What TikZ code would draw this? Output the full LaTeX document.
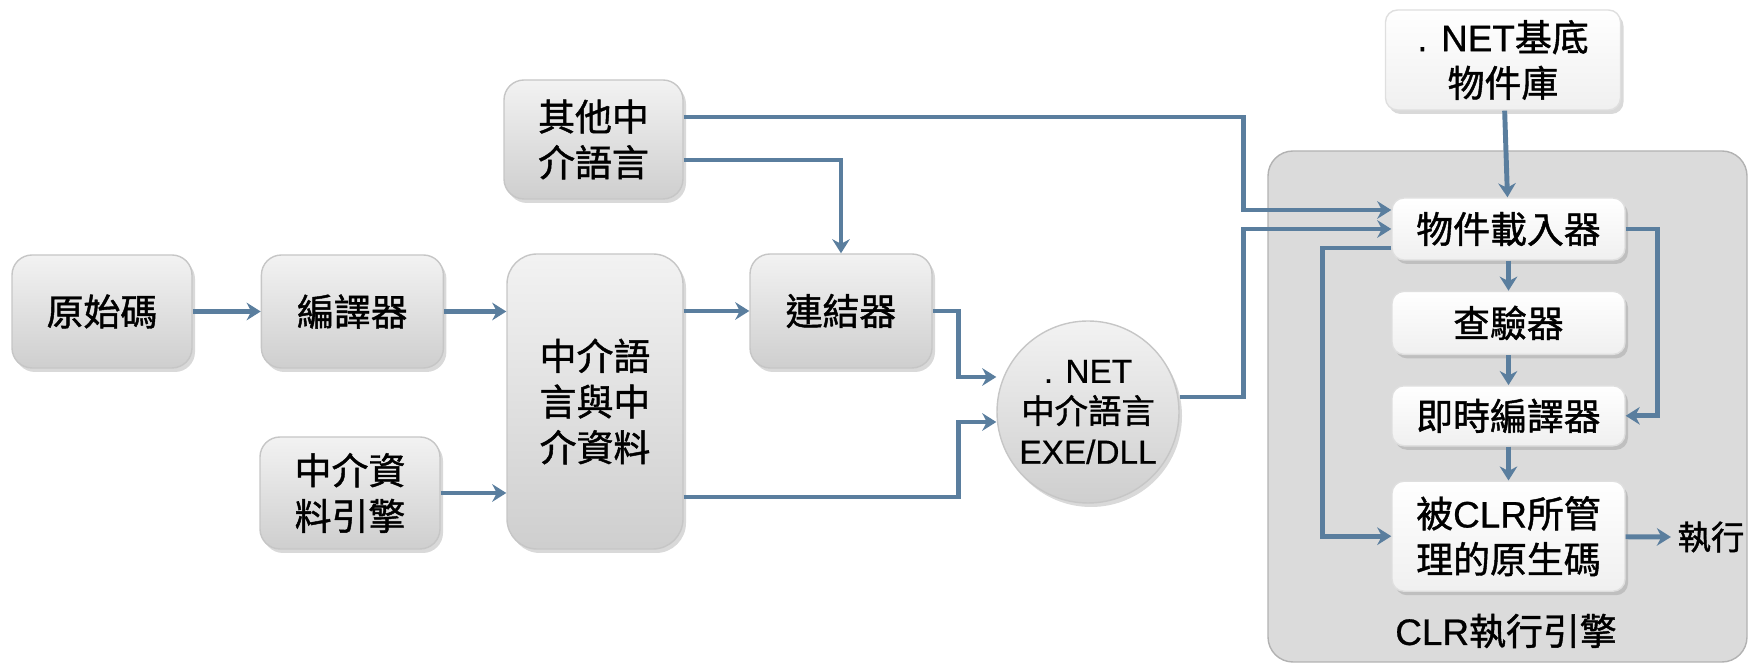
\documentclass[tikz,border=0pt]{standalone}
\usepackage{fontspec}
\setmainfont{Noto Sans CJK TC}[FakeBold=1.2]
\newfontfamily\latin{Liberation Sans}[FakeBold=0.6]
\usetikzlibrary{shapes.geometric, arrows.meta, positioning, shadows}
\definecolor{flowblue}{RGB}{90,126,158}

\begin{document}
\begin{tikzpicture}[
    box/.style={rectangle, draw=gray!45, rounded corners=0.2cm, top color=gray!10, bottom color=gray!38, align=center, inner sep=0pt, font=\fontsize{10.5}{13}\selectfont, drop shadow={opacity=0.3, shadow xshift=0.03cm, shadow yshift=-0.04cm}},
    lightbox/.style={rectangle, draw=gray!25, rounded corners=0.12cm, top color=white, bottom color=gray!12, align=center, inner sep=0pt, minimum width=2.33cm, font=\fontsize{10.5}{13}\selectfont, drop shadow={opacity=0.3, shadow xshift=0.03cm, shadow yshift=-0.04cm}},
    netcircle/.style={circle, draw=gray!45, top color=gray!10, bottom color=gray!38, align=center, inner sep=0pt, font=\fontsize{9.5}{11.5}\selectfont, drop shadow={opacity=0.3, shadow xshift=0.03cm, shadow yshift=-0.04cm}},
    engine/.style={rectangle, draw=gray!60, rounded corners=0.25cm, fill=gray!28},
    arrow/.style={-{Stealth[length=4pt, width=5pt]}, flowblue, line width=1.4pt}
]
\useasboundingbox (0,0) rectangle (17.49,6.67);

% Nodes
\node[box, minimum width=1.80cm, minimum height=1.13cm] (src) at (1.02,3.555) {原始碼};
\node[box, minimum width=1.82cm, minimum height=1.13cm, right=0.68cm of src] (compiler) {編譯器};
\node[box, minimum width=1.80cm, minimum height=1.12cm] (mdengine) at (3.50,1.74) {中介資\\料引擎};
\node[box, rounded corners=0.3cm, minimum width=1.76cm, minimum height=2.95cm] (il) at (5.95,2.655) {中介語\\言與中\\介資料};
\node[box, minimum width=1.79cm, minimum height=1.19cm] (otheril) at (5.935,5.275) {其他中\\介語言};
\node[box, minimum width=1.82cm, minimum height=1.14cm] (linker) at (8.41,3.56) {連結器};
\node[netcircle, minimum size=1.82cm] (net) at (10.88,2.55) {{\latin . NET}\\中介語言\\{\latin EXE/DLL}};

\node[engine, minimum width=4.79cm, minimum height=5.11cm] (clr) at (15.075,2.605) {};
\node[font=\fontsize{10.5}{13}\selectfont] (clrlabel) at (15.06,0.36) {{\latin CLR}執行引擎};
\node[lightbox, minimum width=2.35cm, minimum height=1.0cm] (baselib) at (15.03,6.07) {{\latin . NET}基底\\物件庫};
\node[lightbox, minimum height=0.62cm] (loader) at (15.085,4.38) {物件載入器};
\node[lightbox, minimum height=0.63cm, below=0.3cm of loader] (verifier) {查驗器};
\node[lightbox, minimum height=0.60cm, below=0.3cm of verifier] (jit) {即時編譯器};
\node[lightbox, minimum height=1.1cm, below=0.34cm of jit] (native) {被{\latin CLR}所管\\理的原生碼};
\node[font=\fontsize{9.5}{12}\selectfont, inner sep=0pt] (exec) at (17.11,1.30) {執行};

% Connections
\draw[arrow] (src) -- (compiler);
\draw[arrow] (compiler) -- (compiler -| il.west);
\draw[arrow] (mdengine) -- (mdengine -| il.west);
\draw[arrow] (linker -| il.east) -- (linker);
\draw[arrow] ([yshift=-0.205cm]otheril.east) -| (linker);
\draw[arrow] ([yshift=0.225cm]otheril.east) -- ++(5.6,0) |- ([yshift=0.19cm]loader.west);
\draw[arrow] (linker.east) -- ++(0.26,0) |- ([yshift=0.35cm]net.west);
\draw[arrow] ([yshift=-0.955cm]il.east) -- ++(2.75,0) |- ([yshift=-0.1cm]net.west);
\draw[arrow] ([yshift=0.15cm]net.east) -- ++(0.64,0) |- (loader.west);
\draw[arrow] (baselib) -- (loader);
\draw[arrow] (loader) -- (verifier);
\draw[arrow] (verifier) -- (jit);
\draw[arrow] (jit) -- (native);
\draw[arrow] ([yshift=-0.19cm]loader.west) -- ++(-0.69,0) |- (native.west);
\draw[arrow] (loader.east) -- ++(0.32,0) |- (jit.east);
\draw[arrow] (native) -- ([xshift=-0.06cm]exec.west);

\end{tikzpicture}
\end{document}
